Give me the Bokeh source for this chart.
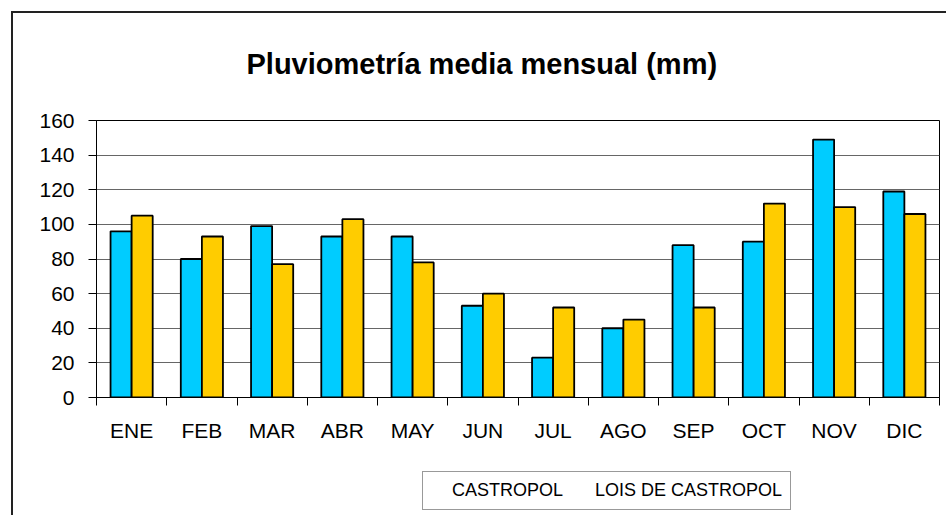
import numpy as np
from bokeh.plotting import figure
from bokeh.layouts import column
from bokeh.models import (ColumnDataSource, Range1d, FixedTicker, CustomJSTickFormatter,
                          Legend, LegendItem)
from bokeh.transform import dodge
from bokeh.embed import file_html
from bokeh.resources import INLINE

months = ["ENE", "FEB", "MAR", "ABR", "MAY", "JUN", "JUL", "AGO", "SEP", "OCT", "NOV", "DIC"]
castropol = [96, 80, 99, 93, 93, 53, 23, 40, 88, 90, 149, 119]
lois_de_castropol = [105, 93, 77, 103, 78, 60, 52, 45, 52, 112, 110, 106]
series_names = ["CASTROPOL", "LOIS DE CASTROPOL"]
y_ticks = [0, 20, 40, 60, 80, 100, 120, 140, 160]
title_text = "Pluviometría media mensual (mm)"

FONT = "Liberation Sans"
BLUE = "#00CCFF"
GOLD = "#FFCC00"

src = ColumnDataSource(dict(
    x=np.arange(len(months)) + 0.5,
    month=months,
    castropol=castropol,
    lois=lois_de_castropol,
))

p = figure(frame_width=843, frame_height=277, output_backend="svg", toolbar_location=None,
           x_range=Range1d(0, len(months)), y_range=Range1d(y_ticks[0], y_ticks[-1]),
           min_border_left=96, min_border_right=7, min_border_top=120, min_border_bottom=60)

# outer chart border (left and top edges visible in the reference)
p.border_fill_color = None
p.styles = {
    "background": ("linear-gradient(#222,#222) 11px 11px / 2px 100% no-repeat, "
                   "linear-gradient(#222,#222) 11px 11px / 100% 2px no-repeat, white"),
}

r1 = p.vbar(x=dodge("x", -0.15, range=p.x_range), top="castropol", width=0.3, source=src,
            fill_color=BLUE, line_color="black", line_width=1.8)
r2 = p.vbar(x=dodge("x", 0.15, range=p.x_range), top="lois", width=0.3, source=src,
            fill_color=GOLD, line_color="black", line_width=1.8)

p.title.text = title_text
p.title.text_font = FONT
p.title.text_font_size = "29px"
p.title.text_font_style = "bold"
p.title.align = "left"
p.title.offset = 150
p.title.standoff = 82
p.title.text_color = "black"

p.outline_line_color = "black"
p.outline_line_width = 1
p.background_fill_color = "white"

# x axis: labels at centres, ticks at category boundaries
xa = p.xaxis[0]
xa.ticker = FixedTicker(ticks=list(np.arange(len(months)) + 0.5),
                        minor_ticks=list(range(len(months) + 1)))
xa.formatter = CustomJSTickFormatter(args=dict(months=months),
                                     code="return months[Math.floor(tick)] || ''")
xa.major_tick_out = 0
xa.major_tick_in = 0
xa.minor_tick_out = 8
xa.minor_tick_in = 0
xa.minor_tick_line_color = "black"
xa.axis_line_color = "black"
xa.major_label_standoff = 13
xa.major_label_text_font = FONT
xa.major_label_text_font_size = "21px"
xa.major_label_text_color = "black"

ya = p.yaxis[0]
ya.ticker = FixedTicker(ticks=y_ticks, minor_ticks=[])
ya.major_tick_out = 8
ya.major_tick_in = 0
ya.major_tick_line_color = "black"
ya.axis_line_color = "black"
ya.major_label_standoff = 14
ya.major_label_text_font = FONT
ya.major_label_text_font_size = "21px"
ya.major_label_text_color = "black"

p.xgrid.visible = False
p.ygrid.ticker = FixedTicker(ticks=y_ticks)
p.ygrid.grid_line_color = "#666666"
p.ygrid.grid_line_width = 1

# legend strip below the chart
p2 = figure(width=946, height=58, output_backend="svg", toolbar_location=None,
            x_axis_type=None, y_axis_type=None, min_border=0,
            x_range=Range1d(0, 1), y_range=Range1d(0, 1))
p2.border_fill_color = None
p2.background_fill_color = None
p2.outline_line_color = None
p2.styles = {
    "background": "linear-gradient(#222,#222) 11px 0 / 2px 100% no-repeat, white",
}
empty = ColumnDataSource(dict(x=[], top=[]))
k1 = p2.vbar(x="x", top="top", width=0.3, source=empty,
             fill_color=BLUE, line_color="black", line_width=1.8)
k2 = p2.vbar(x="x", top="top", width=0.3, source=empty,
             fill_color=GOLD, line_color="black", line_width=1.8)

legend = Legend(items=[LegendItem(label=series_names[0], renderers=[k1]),
                       LegendItem(label=series_names[1], renderers=[k2])],
                orientation="horizontal", location=(326, 5))
legend.label_text_font = FONT
legend.label_text_font_size = "18px"
legend.label_text_color = "black"
legend.glyph_width = 11
legend.glyph_height = 11
legend.border_line_color = "#333333"
legend.border_line_width = 1
legend.background_fill_color = "white"
legend.padding = 8
legend.spacing = 11
legend.margin = 0
legend.label_standoff = 10
p2.add_layout(legend)

page = column(p, p2, spacing=0)
open("out.html", "w").write(file_html(page, INLINE))
